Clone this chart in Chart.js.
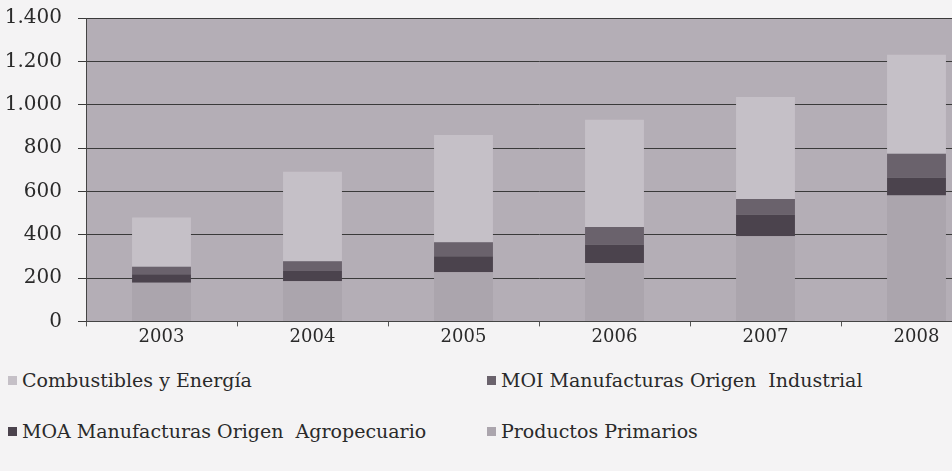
<!DOCTYPE html>
<html lang="es">
<head>
<meta charset="utf-8">
<title>Exportaciones por grandes rubros 2003-2008</title>
<script src="https://cdn.jsdelivr.net/npm/chart.js@4/dist/chart.umd.min.js"></script>
<style>
    html, body {
        margin: 0;
        padding: 0;
        width: 952px;
        height: 471px;
        overflow: hidden;
        background: #f4f3f4;
        font-family: "DejaVu Serif", serif;
        color: #2a2a2a;
    }
    #chartWrap {
        position: absolute;
        left: 0;
        top: 0;
    }
    #legend {
        position: absolute;
        left: 0;
        top: 368px;
        width: 952px;
    }
    .legend-item {
        position: absolute;
        white-space: nowrap;
        font-size: 19px;
        line-height: 24px;
    }
    .legend-item .box {
        display: inline-block;
        width: 9px;
        height: 9px;
        margin-right: 5px;
        vertical-align: 2px;
    }
</style>
</head>
<body>
<div id="chartWrap"><canvas id="exportChart" width="992" height="348"></canvas></div>
<div id="legend"></div>

<script>
/* ==========================================================
   DATA
========================================================== */

const years = ["2003", "2004", "2005", "2006", "2007", "2008"];

// stacked from bottom to top
const productosPrimarios = [178, 185, 227, 270, 393, 581];
const moaValues          = [39, 47, 74, 85, 100, 83];
const moiValues          = [35, 45, 64, 81, 72, 110];
const combustibles       = [228, 413, 495, 494, 470, 456];

const yTicks = [0, 200, 400, 600, 800, 1000, 1200, 1400];

/* ==========================================================
   HELPERS
========================================================== */

function formatMiles(value) {
    // 1400 -> "1.400"
    return String(value).replace(/\B(?=(\d{3})+(?!\d))/g, ".");
}

const plotBackground = {
    id: "plotBackground",
    beforeDraw(chart) {
        const { ctx, chartArea } = chart;
        ctx.save();
        ctx.fillStyle = "#b4aeb6";
        ctx.fillRect(chartArea.left, chartArea.top,
            chartArea.right - chartArea.left, chartArea.bottom - chartArea.top);
        ctx.restore();
    }
};

/* ==========================================================
   CHART
========================================================== */

const ctx = document.getElementById("exportChart").getContext("2d");

const chart = new Chart(ctx, {
    type: "bar",
    data: {
        labels: years,
        datasets: [
            {
                label: "Productos Primarios",
                data: productosPrimarios,
                backgroundColor: "#aba5ad"
            },
            {
                label: "MOA Manufacturas Origen  Agropecuario",
                data: moaValues,
                backgroundColor: "#4b434d"
            },
            {
                label: "MOI Manufacturas Origen  Industrial",
                data: moiValues,
                backgroundColor: "#6a626c"
            },
            {
                label: "Combustibles y Energía",
                data: combustibles,
                backgroundColor: "#c5c0c7"
            }
        ]
    },
    options: {
        responsive: false,
        animation: false,
        categoryPercentage: 1,
        barPercentage: 0.39,
        layout: {
            padding: { top: 18, left: 0, right: 0, bottom: 0 }
        },
        plugins: {
            legend: { display: false },
            tooltip: { enabled: false },
            title: { display: false }
        },
        scales: {
            x: {
                stacked: true,
                grid: {
                    drawOnChartArea: false,
                    drawTicks: true,
                    tickLength: 5,
                    color: "#555"
                },
                border: { display: true, color: "#444", width: 1 },
                ticks: {
                    color: "#2a2a2a",
                    padding: 0,
                    font: { family: "DejaVu Serif", size: 18 }
                }
            },
            y: {
                stacked: true,
                min: 0,
                max: 1400,
                afterBuildTicks: axis => {
                    axis.ticks = yTicks.map(v => ({ value: v }));
                },
                afterFit: axis => {
                    axis.width = 86;
                    axis.paddingTop = 0;
                    axis.paddingBottom = 0;
                },
                grid: {
                    color: "#3a3a3a",
                    lineWidth: 1,
                    tickLength: 8
                },
                border: { display: true, color: "#444", width: 1 },
                ticks: {
                    color: "#2a2a2a",
                    padding: 16,
                    font: { family: "DejaVu Serif", size: 20 },
                    callback: value => formatMiles(value)
                }
            }
        }
    },
    plugins: [plotBackground]
});

/* ==========================================================
   LEGEND (two columns, as in the original)
========================================================== */

const legendSlots = [
    { label: "Combustibles y Energía", left: 8, top: 0 },
    { label: "MOI Manufacturas Origen  Industrial", left: 487, top: 0 },
    { label: "MOA Manufacturas Origen  Agropecuario", left: 8, top: 51 },
    { label: "Productos Primarios", left: 487, top: 51 }
];

const legendEl = document.getElementById("legend");

legendSlots.forEach(slot => {
    const ds = chart.data.datasets.find(d => d.label === slot.label);
    const item = document.createElement("div");
    item.className = "legend-item";
    item.style.left = slot.left + "px";
    item.style.top = slot.top + "px";
    item.innerHTML = `<span class="box" style="background:${ds.backgroundColor}"></span>` +
        ds.label.replace(/  /g, "&nbsp; ");
    legendEl.appendChild(item);
});
</script>
</body>
</html>
